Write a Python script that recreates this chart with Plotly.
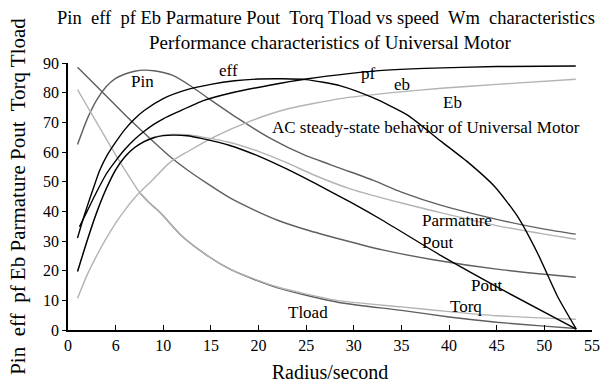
import plotly.graph_objects as go

# ---------------- data ----------------
x_ticks = [0, 5, 10, 15, 20, 25, 30, 35, 40, 45, 50, 55]
x_ticktext = ["0", "6", "10", "15", "20", "25", "30", "35", "40", "45", "50", "55"]
y_ticks = [0, 10, 20, 30, 40, 50, 60, 70, 80, 90]

pin_w = [1, 2, 3, 4, 5, 6, 7, 8, 9, 10, 11, 13, 15, 17.8, 21.3, 24.8, 28.6, 32, 35, 39.2, 45, 50, 53.3]
pin_v = [62.5, 71, 77.5, 82, 84.8, 86.3, 87.2, 87.6, 87.4, 86.8, 85.8, 82, 77.5, 71.4, 64.5, 59, 54.5, 50.5, 46.5, 42, 37.3, 34, 32.3]

eff_w = [1, 1.5, 2, 2.6, 3.3, 4, 5, 6, 7, 8, 10, 12.5, 15, 17.5, 20, 22.5, 25, 28.6, 32, 35.6, 39.2, 42, 44.8, 47.2, 49.3, 51.4, 53.35]
eff_v = [31, 36.5, 41.5, 47.2, 53.6, 58.3, 63.3, 67.7, 71.2, 74, 78, 81, 82.8, 84, 84.6, 84.7, 84.4, 82.3, 78.3, 72.5, 63.5, 56.5, 48.3, 38.2, 25.8, 11.2, 0.3]

pf_w = [1.2, 2, 3, 4, 5, 6, 7, 8, 9, 10, 11.6, 14.2, 17, 21.3, 25, 29.7, 33, 37.4, 45, 53.3]
pf_v = [34.8, 40, 46.5, 52.5, 57, 61, 64.3, 67, 69.3, 71.2, 73.6, 77.3, 79.8, 82.6, 84.6, 86.5, 87.5, 88.2, 88.8, 89.0]

eb_w = [1, 2, 3, 4, 5, 6, 7, 7.6, 9, 10.7, 12.5, 15.3, 19.2, 23, 28.6, 34, 39.2, 45, 53.3]
eb_v = [10.7, 18.5, 25, 30.8, 36, 40.6, 44.6, 46.6, 51, 56.5, 60, 65, 70.5, 74.5, 78, 80, 81.5, 82.8, 84.5]

pout_w = [1, 2, 3, 4, 5, 6, 7, 8, 9, 10, 11, 12.5, 14, 17, 20, 23, 26, 29.7, 33, 39.2, 46.2, 53.35]
pout_v = [19.7, 30, 39.5, 47.5, 54, 58.5, 61.5, 63.5, 64.8, 65.5, 65.7, 65.5, 64.6, 62.2, 58.6, 54.2, 49.3, 43, 37, 25, 12.5, 0.3]

pdev_w = [1, 2, 3, 4, 5, 6, 7, 8, 9, 10, 11, 12.5, 14, 17, 20, 23, 26, 29.7, 35, 39.2, 45, 50, 53.3]
pdev_v = [19.7, 30, 39.5, 47.5, 54, 58.5, 61.5, 63.6, 65, 65.7, 65.9, 65.8, 65.1, 63.2, 60.2, 56.3, 52, 47.5, 42.8, 39.5, 35.2, 32.3, 30.6]

parm_w = [1, 3.5, 6, 8.3, 10.7, 12.5, 14.6, 17, 19.5, 22, 25.1, 28.6, 33, 38.5, 45, 50, 53.3]
parm_v = [88.6, 80.6, 72.5, 65.5, 58.5, 54, 49.4, 44.5, 40.5, 37, 33.7, 30.6, 27, 23.6, 20.5, 18.8, 17.8]

torq_w = [1, 2, 3, 4, 5, 6, 7, 7.6, 8.5, 9.7, 12, 14.8, 17, 19.8, 22, 24.9, 28.6, 35, 40, 45, 50, 53.3]
torq_v = [81, 75.5, 70, 64.5, 59, 53.8, 48.8, 46, 43, 39.5, 31.5, 24.7, 20.5, 16.9, 14.5, 12.2, 9.8, 7.8, 6.2, 4.8, 4.0, 3.6]

tload_w = [7.6, 8.5, 9.7, 12, 14.8, 17, 19.8, 22, 24.9, 28.6, 35, 40, 45, 50, 53.3]
tload_v = [46, 43, 39.5, 31.5, 24.7, 20.5, 16.7, 14.2, 11.8, 9.2, 6.6, 4.4, 2.6, 1.3, 0.5]

labels = ["Pin", "eff", "pf", "eb", "Eb", "AC steady-state behavior of Universal Motor",
          "Parmature", "Pout", "Pout", "Torq", "Tload"]
label_x = [7.8, 16.8, 31.5, 35.1, 40.4, 37.6, 40.8, 38.8, 43.9, 41.8, 25.2]
label_y = [83.6, 87.6, 86.6, 82.6, 76.8, 68.4, 36.9, 29.6, 14.9, 8.0, 6.0]

# ---------------- styling ----------------
FONT = "Liberation Serif, Times New Roman, serif"
BLACK = "#000000"
DARK = "#5f5f5f"
LIGHT = "#b3b3b3"

series = [
    ("Parmature", parm_w, parm_v, DARK),
    ("Pin", pin_w, pin_v, DARK),
    ("Eb", eb_w, eb_v, LIGHT),
    ("Tload", tload_w, tload_v, DARK),
    ("Torq", torq_w, torq_v, LIGHT),
    ("Pdev", pdev_w, pdev_v, LIGHT),
    ("Pout", pout_w, pout_v, BLACK),
    ("pf", pf_w, pf_v, BLACK),
    ("eff", eff_w, eff_v, BLACK),
]

fig = go.Figure()
for name, xs, ys, col in series:
    fig.add_trace(go.Scatter(
        x=xs, y=ys, name=name, mode="lines",
        line=dict(color=col, width=1.4, shape="spline", smoothing=0.6),
        showlegend=False, hoverinfo="skip",
    ))

for t, ax, ay in zip(labels, label_x, label_y):
    fig.add_annotation(x=ax, y=ay, text=t, showarrow=False,
                       font=dict(family=FONT, size=17, color="black"),
                       xanchor="center", yanchor="middle")

NB = "\u00a0"
title_text = ("Pin" + NB + " eff" + NB + " pf Eb Parmature Pout" + NB + " Torq Tload vs speed" + NB +
              " Wm" + NB + " characteristics")
subtitle_text = "Performance characteristics of Universal Motor"

# second title line, centred a little right of the first one as in the reference
fig.add_annotation(text=subtitle_text, xref="paper", yref="paper",
                   x=(330 - 68) / 524, y=1 + (63 - 42) / 267,
                   xanchor="center", yanchor="middle", showarrow=False,
                   font=dict(family=FONT, size=19, color="black"))

fig.update_layout(
    width=612, height=385,
    margin=dict(l=68, r=20, t=63, b=55),
    paper_bgcolor="white", plot_bgcolor="white",
    font=dict(family=FONT, color="black"),
    title=dict(text=title_text, x=326 / 612, xref="container", xanchor="center",
               y=0.972, yref="container", yanchor="top",
               font=dict(family=FONT, size=18.5, color="black")),
    xaxis=dict(range=[0, 55], tickvals=x_ticks, ticktext=x_ticktext,
               ticks="inside", ticklen=5, tickwidth=1.2, tickcolor="black",
               showline=True, linecolor="black", linewidth=1.8,
               showgrid=False, zeroline=False, automargin=False,
               tickfont=dict(family=FONT, size=16, color="black"),
               title=dict(text="Radius/second", standoff=12,
                          font=dict(family=FONT, size=20, color="black"))),
    yaxis=dict(range=[0, 90], tickvals=y_ticks,
               ticks="outside", ticklen=4, tickwidth=1.2, tickcolor="black",
               showline=True, linecolor="black", linewidth=1.8,
               showgrid=False, zeroline=False, automargin=False,
               tickfont=dict(family=FONT, size=16, color="black"),
               title=dict(text="Pin" + NB + " eff" + NB + " pf Eb Parmature Pout" + NB + " Torq Tload",
                          standoff=12,
                          font=dict(family=FONT, size=21, color="black"))),
)

fig.write_html("out.html")
